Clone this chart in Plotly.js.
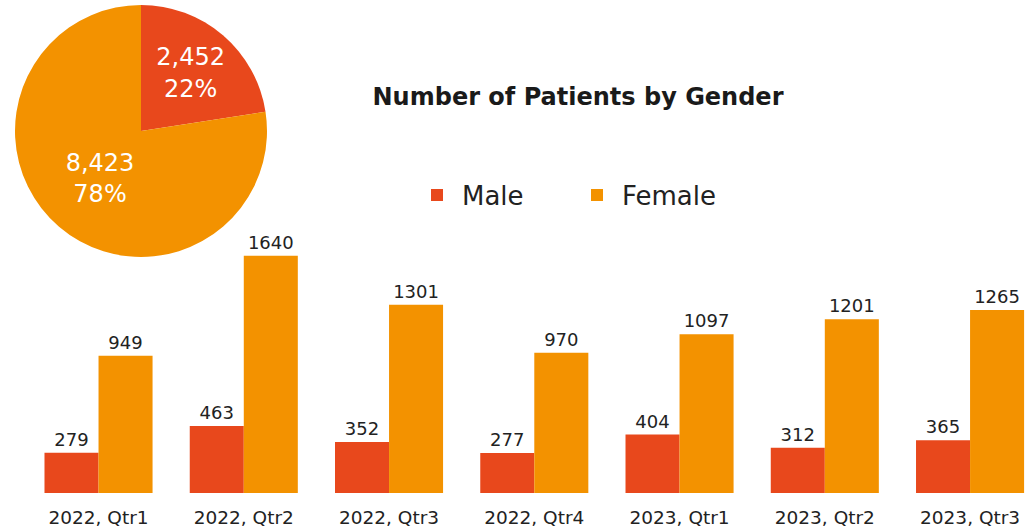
<!DOCTYPE html>
<html>
<head>
<meta charset="utf-8">
<script src="https://cdn.plot.ly/plotly-3.0.1.min.js"></script>
<style>html,body{margin:0;padding:0;background:#fff;}#chart{width:1027px;height:531px;}</style>
</head>
<body>
<div id="chart"></div>
<script>
const categories = ['2022, Qtr1','2022, Qtr2','2022, Qtr3','2022, Qtr4','2023, Qtr1','2023, Qtr2','2023, Qtr3'];
const maleValues = [279, 463, 352, 277, 404, 312, 365];
const femaleValues = [949, 1640, 1301, 970, 1097, 1201, 1265];
const pieLabels = ['Male', 'Female'];
const pieValues = [2452, 8423];
const piePercentLabels = ['22%', '78%'];

const MALE = '#E8481C';
const FEMALE = '#F39200';
const FONT = 'DejaVu Sans, Liberation Sans, Arial, sans-serif';

const W = 1027, H = 531, B = 38;
const PH = H - B; // paper height

const traces = [
  {
    type: 'bar', name: 'Male', x: categories, y: maleValues,
    marker: {color: MALE},
    texttemplate: '%{y}', textposition: 'outside', cliponaxis: false,
    outsidetextfont: {family: FONT, size: 18, color: '#222'},
    hoverinfo: 'skip'
  },
  {
    type: 'bar', name: 'Female', x: categories, y: femaleValues,
    marker: {color: FEMALE},
    texttemplate: '%{y}', textposition: 'outside', cliponaxis: false,
    outsidetextfont: {family: FONT, size: 18, color: '#222'},
    hoverinfo: 'skip'
  },
  {
    type: 'pie', labels: pieLabels, values: pieValues, text: piePercentLabels,
    sort: false, direction: 'clockwise', rotation: 0,
    marker: {colors: [MALE, FEMALE]},
    texttemplate: '%{value:,}<br>%{text}',
    textposition: 'inside', insidetextorientation: 'horizontal',
    textfont: {family: FONT, size: 24, color: '#ffffff'},
    showlegend: false, hoverinfo: 'skip',
    domain: {x: [15 / W, 267 / W], y: [(PH - 257) / PH, (PH - 5) / PH]}
  }
];

const layout = {
  width: W, height: H,
  margin: {l: 0, r: 0, t: 0, b: B, pad: 0},
  paper_bgcolor: '#ffffff', plot_bgcolor: '#ffffff',
  font: {family: FONT, color: '#222'},
  title: {
    text: 'Number of Patients by Gender',
    font: {family: FONT, size: 24, weight: 'bold', color: '#1a1a1a'},
    x: 578 / W, xanchor: 'center', xref: 'container',
    y: 1 - 97 / H, yanchor: 'middle', yref: 'container'
  },
  barmode: 'group', bargap: 0.256, bargroupgap: 0,
  xaxis: {
    domain: [25.9 / W, 1], range: [-0.5, 6.392],
    type: 'category', showgrid: false, zeroline: false, showline: false,
    ticks: 'outside', ticklen: 8, tickcolor: 'rgba(0,0,0,0)',
    tickfont: {family: FONT, size: 18.5, color: '#222'},
    fixedrange: true
  },
  yaxis: {
    domain: [0, 246 / PH], range: [0, 1700],
    visible: false, showgrid: false, zeroline: false, fixedrange: true
  },
  showlegend: true,
  legend: {
    orientation: 'h', x: 412 / W, xanchor: 'left',
    y: (PH - 195) / PH, yanchor: 'middle',
    font: {family: FONT, size: 26, color: '#222'},
    itemwidth: 40, entrywidth: 105, entrywidthmode: 'pixels',
    bgcolor: 'rgba(0,0,0,0)'
  },
  hovermode: false
};

Plotly.newPlot('chart', traces, layout, {displayModeBar: false, staticPlot: true});
</script>
</body>
</html>
